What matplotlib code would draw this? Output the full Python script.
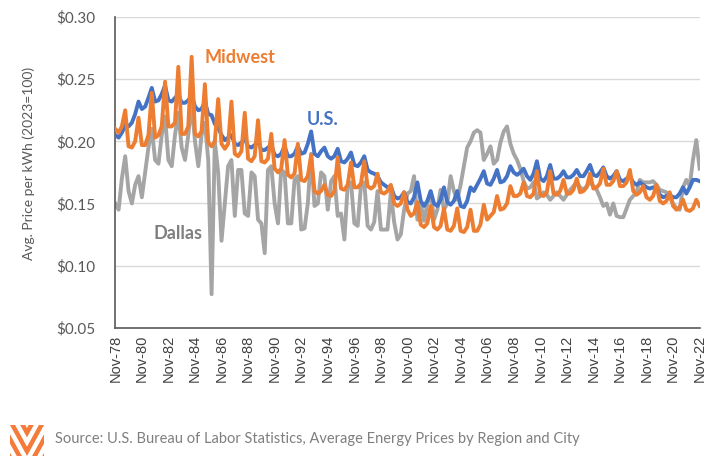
import matplotlib
matplotlib.use("Agg")
import matplotlib.pyplot as plt
import numpy as np
import pandas as pd

# quarterly readings (Feb, May, Aug, Nov) starting Nov-78
dates = pd.date_range("1978-11-01", "2022-11-01", freq="3MS")

us = [0.205,
      0.203, 0.207, 0.213, 0.212,  # 1979
      0.215, 0.222, 0.232, 0.226,
      0.228, 0.235, 0.243, 0.232,
      0.233, 0.238, 0.245, 0.233,
      0.232, 0.235, 0.238, 0.231,
      0.231, 0.233, 0.237, 0.228,
      0.225, 0.226, 0.232, 0.222,
      0.221, 0.214, 0.211, 0.205,
      0.201, 0.203, 0.205, 0.198,
      0.197, 0.199, 0.202, 0.196,
      0.195, 0.197, 0.200, 0.193,  # 1989
      0.193, 0.195, 0.197, 0.189,
      0.188, 0.190, 0.196, 0.188,
      0.188, 0.190, 0.196, 0.190,
      0.191, 0.198, 0.208, 0.190,
      0.188, 0.192, 0.195, 0.188,
      0.186, 0.188, 0.194, 0.184,
      0.183, 0.186, 0.191, 0.181,
      0.180, 0.183, 0.188, 0.177,
      0.175, 0.174, 0.172, 0.167,
      0.165, 0.163, 0.164, 0.156,  # 1999
      0.154, 0.155, 0.159, 0.151,
      0.150, 0.155, 0.167, 0.152,
      0.148, 0.152, 0.160, 0.150,
      0.148, 0.153, 0.163, 0.151,
      0.149, 0.152, 0.160, 0.148,
      0.147, 0.152, 0.163, 0.160,
      0.165, 0.170, 0.176, 0.166,
      0.165, 0.170, 0.177, 0.167,
      0.168, 0.172, 0.180, 0.175,
      0.173, 0.175, 0.178, 0.172,  # 2009
      0.169, 0.174, 0.184, 0.170,
      0.168, 0.172, 0.181, 0.170,
      0.170, 0.172, 0.176, 0.171,
      0.171, 0.173, 0.177, 0.172,
      0.172, 0.176, 0.181, 0.173,
      0.172, 0.175, 0.179, 0.172,
      0.170, 0.172, 0.176, 0.169,
      0.168, 0.170, 0.172, 0.167,
      0.165, 0.167, 0.165, 0.163,
      0.162, 0.163, 0.163, 0.157,  # 2019
      0.155, 0.156, 0.157, 0.155,
      0.155, 0.158, 0.163, 0.158,
      0.163, 0.169, 0.169, 0.168]

midwest = [0.210,
           0.207, 0.212, 0.225, 0.196,  # 1979
           0.195, 0.200, 0.219, 0.197,
           0.197, 0.205, 0.239, 0.203,
           0.205, 0.212, 0.248, 0.212,
           0.212, 0.215, 0.260, 0.206,
           0.206, 0.212, 0.268, 0.206,
           0.204, 0.208, 0.246, 0.199,
           0.196, 0.200, 0.234, 0.198,
           0.194, 0.198, 0.232, 0.190,
           0.188, 0.192, 0.223, 0.186,
           0.184, 0.188, 0.217, 0.184,  # 1989
           0.183, 0.186, 0.206, 0.178,
           0.175, 0.178, 0.201, 0.173,
           0.171, 0.174, 0.198, 0.169,
           0.168, 0.172, 0.189, 0.160,
           0.158, 0.160, 0.165, 0.157,
           0.156, 0.160, 0.187, 0.162,
           0.161, 0.165, 0.183, 0.163,
           0.163, 0.166, 0.184, 0.164,
           0.162, 0.164, 0.174, 0.159,
           0.158, 0.160, 0.165, 0.150,  # 1999
           0.148, 0.150, 0.159, 0.145,
           0.140, 0.142, 0.151, 0.133,
           0.131, 0.134, 0.148, 0.131,
           0.129, 0.132, 0.146, 0.129,
           0.128, 0.132, 0.146, 0.128,
           0.127, 0.131, 0.145, 0.128,
           0.128, 0.133, 0.149, 0.137,
           0.140, 0.143, 0.156, 0.145,
           0.146, 0.150, 0.164, 0.156,
           0.156, 0.158, 0.167, 0.156,  # 2009
           0.155, 0.158, 0.176, 0.157,
           0.156, 0.159, 0.176, 0.158,
           0.157, 0.160, 0.169, 0.158,
           0.158, 0.161, 0.170, 0.159,
           0.160, 0.163, 0.174, 0.162,
           0.163, 0.166, 0.178, 0.165,
           0.165, 0.168, 0.176, 0.164,
           0.164, 0.167, 0.177, 0.160,
           0.157, 0.159, 0.164, 0.155,
           0.153, 0.156, 0.165, 0.152,  # 2019
           0.150, 0.152, 0.159, 0.148,
           0.145, 0.147, 0.153, 0.145,
           0.144, 0.146, 0.153, 0.148]

dallas = [0.150,
          0.145, 0.170, 0.188, 0.160,  # 1979
          0.150, 0.165, 0.172, 0.155,
          0.175, 0.195, 0.210, 0.185,
          0.182, 0.205, 0.220, 0.185,
          0.180, 0.205, 0.223, 0.195,
          0.185, 0.205, 0.231, 0.200,
          0.180, 0.205, 0.215, 0.185,
          0.077, 0.200, 0.175, 0.120,
          0.150, 0.180, 0.185, 0.140,
          0.177, 0.177, 0.142, 0.140,
          0.175, 0.172, 0.137, 0.134,  # 1989
          0.110, 0.177, 0.180, 0.150,
          0.134, 0.177, 0.175, 0.134,
          0.134, 0.169, 0.172, 0.129,
          0.130, 0.150, 0.190, 0.148,
          0.150, 0.175, 0.172, 0.145,
          0.168, 0.172, 0.140, 0.142,
          0.121, 0.164, 0.167, 0.134,
          0.132, 0.164, 0.167, 0.132,
          0.129, 0.135, 0.160, 0.129,
          0.129, 0.129, 0.159, 0.135,  # 1999
          0.121, 0.125, 0.145, 0.158,
          0.160, 0.172, 0.137, 0.150,
          0.136, 0.150, 0.159, 0.137,
          0.145, 0.161, 0.145, 0.150,
          0.172, 0.160, 0.153, 0.165,
          0.180, 0.195, 0.200, 0.207,
          0.209, 0.207, 0.185, 0.190,
          0.196, 0.182, 0.185, 0.199,
          0.208, 0.212, 0.198, 0.190,
          0.185, 0.178, 0.168, 0.162,  # 2009
          0.163, 0.167, 0.154, 0.156,
          0.159, 0.157, 0.153, 0.156,
          0.159, 0.156, 0.153, 0.157,
          0.161, 0.164, 0.167, 0.163,
          0.161, 0.164, 0.167, 0.164,
          0.161, 0.155, 0.148, 0.150,
          0.141, 0.150, 0.140, 0.139,
          0.139, 0.146, 0.153, 0.156,
          0.159, 0.169, 0.167, 0.167,
          0.167, 0.168, 0.165, 0.161,  # 2019
          0.160, 0.159, 0.155, 0.150,
          0.146, 0.145, 0.163, 0.169,
          0.164, 0.185, 0.201, 0.178]

yticks = [0.05, 0.10, 0.15, 0.20, 0.25, 0.30]
xticks = pd.date_range("1978-11-01", "2022-11-01", freq="24MS")

blue = "#4472C4"
orange = "#ED7D31"
grey = "#A5A5A5"

fig = plt.figure(figsize=(7.25, 4.61), dpi=100)
ax = fig.add_axes([0.159, 0.289, 0.806, 0.674])

ax.plot(dates, dallas, color=grey, lw=2.8, zorder=2)
ax.plot(dates, us, color=blue, lw=2.8, zorder=3)
ax.plot(dates, midwest, color=orange, lw=2.8, zorder=4)

ax.set_ylim(0.05, 0.30)
ax.set_xlim(dates[0], dates[-1])
ax.set_yticks(yticks)
ax.set_yticklabels(["${:.2f}".format(v) for v in yticks], family="Lato",
                   fontsize=11, color="#595959")
ax.set_xticks(xticks)
ax.set_xticklabels([d.strftime("%b-%y") for d in xticks], rotation=90,
                   family="Liberation Sans", fontsize=10.5, color="#404040")
ax.tick_params(axis="y", length=0, pad=14)
ax.tick_params(axis="x", length=0, pad=5)
ax.grid(axis="y", color="#D9D9D9", lw=1)
ax.set_axisbelow(True)
for s in ["top", "right"]:
    ax.spines[s].set_visible(False)
for s in ["left", "bottom"]:
    ax.spines[s].set_color("#595959")
    ax.spines[s].set_linewidth(1.2)

ax.set_ylabel("Avg. Price per kWh (2023=100)", family="Lato", fontsize=10,
              color="#595959")
ax.yaxis.set_label_coords(-0.138, 0.53)

ax.text(0.214, 0.871, "Midwest", transform=ax.transAxes, color=orange,
        family="Lato", weight="bold", fontsize=13, ha="center", va="center")
ax.text(0.354, 0.669, "U.S.", transform=ax.transAxes, color=blue,
        family="Lato", weight="bold", fontsize=13, ha="center", va="center")
ax.text(0.108, 0.305, "Dallas", transform=ax.transAxes, color="#7F7F7F",
        family="Lato", weight="bold", fontsize=13, ha="center", va="center")

# chevron logo
lax = fig.add_axes([10 / 725, 1 - 456 / 461, 34 / 725, 31 / 461])
lax.set_xlim(0, 1)
lax.set_ylim(0, 1)
lax.axis("off")
for d in [-1.2, -0.6, 0.0, 0.6]:
    lax.fill([0, 0.5, 1, 1, 0.5, 0], [1 + d, d, 1 + d, 1.3 + d, 0.3 + d, 1.3 + d],
             color="#F47B3A", lw=0)

fig.text(55 / 725, 1 - 439 / 461,
         "Source: U.S. Bureau of Labor Statistics, Average Energy Prices by Region and City",
         family="Lato", fontsize=10.5, color="#7F7F7F", va="center", ha="left")

fig.savefig("out.png", dpi=100)
